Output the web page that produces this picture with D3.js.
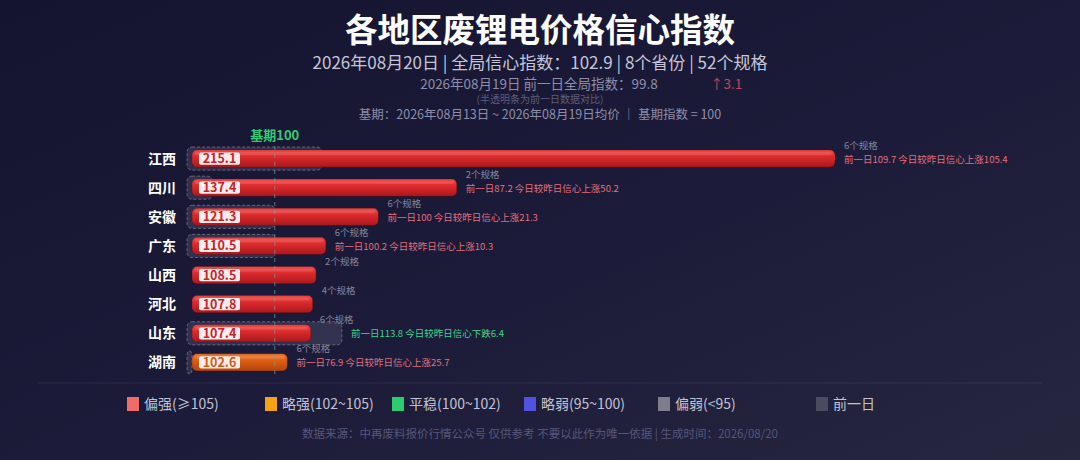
<!DOCTYPE html>
<html lang="zh">
<head>
  <meta charset="UTF-8">
  <title>各地区废锂电价格信心指数</title>
  <script src="https://d3js.org/d3.v7.min.js"></script>
  <style>
    body { margin: 0; background: #191934; }
    svg { display: block; font-family: "Noto Sans CJK SC", "Noto Sans", sans-serif; }
  </style>
</head>
<body>
  <svg id="chart" width="1080" height="460"></svg>

  <script>
    // data
    const provinces = ["江西", "四川", "安徽", "广东", "山西", "河北", "山东", "湖南"]
    const todayIndex = [215.1, 137.4, 121.3, 110.5, 108.5, 107.8, 107.4, 102.6]
    const prevIndex = [109.7, 87.2, 100, 100.2, null, null, 113.8, 76.9]
    const specCounts = [6, 2, 6, 6, 2, 4, 6, 6]

    const legendLabels = ["偏强(≥105)", "略强(102~105)", "平稳(100~102)", "略弱(95~100)", "偏弱(<95)", "前一日"]
    const legendColors = ["#f26b6b", "#f5a316", "#2ecc71", "#5252e0", "#7d7d8e", "#4a4a60"]

    const rows = provinces.map((p, i) => ({
      name: p, value: todayIndex[i], prev: prevIndex[i], specs: specCounts[i]
    }))

    const W = 1080, H = 460
    const svg = d3.select("#chart")
    const defs = svg.append("defs")

    const bg = defs.append("linearGradient").attr("id", "bg")
      .attr("x1", "0%").attr("y1", "0%").attr("x2", "100%").attr("y2", "100%")
    bg.append("stop").attr("offset", "0%").attr("stop-color", "#141430")
    bg.append("stop").attr("offset", "55%").attr("stop-color", "#1c1c3a")
    bg.append("stop").attr("offset", "100%").attr("stop-color", "#26263f")

    function barGrad(id, c0, c1, c2) {
      const g = defs.append("linearGradient").attr("id", id)
        .attr("x1", "0").attr("y1", "0").attr("x2", "0").attr("y2", "1")
      g.append("stop").attr("offset", "0%").attr("stop-color", c0)
      g.append("stop").attr("offset", "40%").attr("stop-color", c1)
      g.append("stop").attr("offset", "100%").attr("stop-color", c2)
    }
    barGrad("gRed", "#f04a48", "#dc2a2c", "#a8181e")
    barGrad("gOrange", "#f0762a", "#de5e16", "#b0440c")
    barGrad("gGreen", "#46dc86", "#2ecc71", "#1f9a55")
    barGrad("gBlue", "#6a6aee", "#5252e0", "#3a3ab0")
    barGrad("gGray", "#9a9aaa", "#7d7d8e", "#5d5d6e")

    function barFill(v) {
      if (v >= 105) return "url(#gRed)"
      if (v >= 102) return "url(#gOrange)"
      if (v >= 100) return "url(#gGreen)"
      if (v >= 95) return "url(#gBlue)"
      return "url(#gGray)"
    }
    function labelColor(v) {
      if (v >= 105) return "#c42428"
      if (v >= 102) return "#d45a14"
      if (v >= 100) return "#1f9a55"
      if (v >= 95) return "#3a3ab0"
      return "#5d5d6e"
    }

    svg.append("rect").attr("width", W).attr("height", H).attr("fill", "url(#bg)")

    // header
    const cx = W / 2
    svg.append("text").attr("x", cx).attr("y", 42).attr("text-anchor", "middle")
      .attr("fill", "#ffffff").attr("font-size", 32.5).attr("font-weight", 700)
      .text("各地区废锂电价格信心指数")
    svg.append("text").attr("x", cx).attr("y", 69).attr("text-anchor", "middle")
      .attr("fill", "#c6c6d8").attr("font-size", 17)
      .text("2026年08月20日 | 全局信心指数：102.9 | 8个省份 | 52个规格")
    svg.append("text").attr("x", 539).attr("y", 88.5).attr("text-anchor", "middle")
      .attr("fill", "#8e8ea8").attr("font-size", 13.5)
      .text("2026年08月19日 前一日全局指数：99.8")
    svg.append("text").attr("x", 710).attr("y", 88.5)
      .attr("fill", "#c04460").attr("font-size", 13.5)
      .text("↑3.1")
    svg.append("text").attr("x", cx).attr("y", 103).attr("text-anchor", "middle")
      .attr("fill", "#5e5e7a").attr("font-size", 10)
      .text("(半透明条为前一日数据对比)")
    svg.append("text").attr("x", cx).attr("y", 119).attr("text-anchor", "middle")
      .attr("fill", "#8e8ea8").attr("font-size", 12.5)
      .text("基期：2026年08月13日 ~ 2026年08月19日均价 ｜ 基期指数 = 100")

    // scales
    const x = d3.scaleLinear()
      .domain([83, d3.max(rows, d => d.value)])
      .range([192, 835])
    const y = d3.scaleBand()
      .domain(provinces)
      .range([144, 377])
      .paddingInner(0.41)
      .paddingOuter(0.205)
    const bh = y.bandwidth()
    const x0 = x.range()[0]

    const plot = svg.append("g")

    // previous-day ghost bars
    const ghosts = rows.filter(d => d.prev != null)
    plot.selectAll(".ghost").data(ghosts).join("rect")
      .attr("class", "ghost")
      .attr("x", x0 - 5)
      .attr("y", d => y(d.name) - 3)
      .attr("width", d => Math.max(0, x(d.prev) - x0) + 5)
      .attr("height", bh + 6)
      .attr("rx", 5)
      .attr("fill", "rgba(110,110,140,0.28)")
      .attr("stroke", "rgba(170,170,190,0.45)")
      .attr("stroke-dasharray", "3,2")

    // current bars
    plot.selectAll(".bar").data(rows).join("rect")
      .attr("class", "bar")
      .attr("x", x0)
      .attr("y", d => y(d.name))
      .attr("width", d => x(d.value) - x0)
      .attr("height", bh)
      .attr("rx", 5)
      .attr("fill", d => barFill(d.value))
      .attr("stroke", "rgba(60,0,10,0.35)")
      .attr("stroke-width", 0.8)

    // top sheen
    plot.selectAll(".sheen").data(rows).join("rect")
      .attr("class", "sheen")
      .attr("x", x0 + 3)
      .attr("y", d => y(d.name) + 2)
      .attr("width", d => x(d.value) - x0 - 6)
      .attr("height", 3)
      .attr("rx", 1.5)
      .attr("fill", "rgba(255,255,255,0.12)")

    // value tags
    plot.selectAll(".tag").data(rows).join("rect")
      .attr("class", "tag")
      .attr("x", x0 + 7)
      .attr("y", d => y(d.name) + 2.5)
      .attr("width", 41)
      .attr("height", bh - 5)
      .attr("rx", 2)
      .attr("fill", "#fdeceb")
    plot.selectAll(".tagText").data(rows).join("text")
      .attr("class", "tagText")
      .attr("x", x0 + 27.5)
      .attr("y", d => y(d.name) + bh / 2 + 4.5)
      .attr("text-anchor", "middle")
      .attr("font-size", 12.5)
      .attr("font-weight", 700)
      .attr("fill", d => labelColor(d.value))
      .text(d => d.value.toFixed(1))

    // base line at 100
    plot.append("line")
      .attr("x1", x(100)).attr("x2", x(100))
      .attr("y1", 146).attr("y2", 378)
      .attr("stroke", "rgba(110,170,170,0.55)")
      .attr("stroke-width", 1.2)
      .attr("stroke-dasharray", "4,4")
    plot.append("text")
      .attr("x", x(100)).attr("y", 140)
      .attr("text-anchor", "middle")
      .attr("fill", "#2ecc71").attr("font-size", 13).attr("font-weight", 700)
      .text("基期100")

    // province names
    plot.selectAll(".name").data(rows).join("text")
      .attr("class", "name")
      .attr("x", 176)
      .attr("y", d => y(d.name) + bh / 2 + 5)
      .attr("text-anchor", "end")
      .attr("fill", "#ffffff").attr("font-size", 14).attr("font-weight", 700)
      .text(d => d.name)

    // spec counts
    plot.selectAll(".spec").data(rows).join("text")
      .attr("class", "spec")
      .attr("x", d => x(d.value) + 9)
      .attr("y", d => y(d.name) + bh / 2 - 10)
      .attr("fill", "#85859c").attr("font-size", 9.5)
      .text(d => d.specs + "个规格")

    // previous-day notes
    plot.selectAll(".note").data(ghosts).join("text")
      .attr("class", "note")
      .attr("x", d => Math.max(x(d.value), x(d.prev)) + 9)
      .attr("y", d => y(d.name) + bh / 2 + 4)
      .attr("font-size", 9.5)
      .attr("fill", d => d.value >= d.prev ? "#e0707e" : "#3fd68a")
      .text(d => {
        const diff = Math.abs(d.value - d.prev).toFixed(1)
        return "前一日" + d.prev + " 今日较昨日信心" + (d.value >= d.prev ? "上涨" : "下跌") + diff
      })

    // separator
    svg.append("line")
      .attr("x1", 38).attr("x2", 1042).attr("y1", 383).attr("y2", 383)
      .attr("stroke", "rgba(255,255,255,0.08)")

    // legend
    const legendX = [127, 265, 392, 524, 658, 816]
    const legend = svg.append("g")
    const items = legend.selectAll("g").data(legendLabels).join("g")
      .attr("transform", (d, i) => "translate(" + legendX[i] + ",404)")
    items.append("rect")
      .attr("x", 0).attr("y", -7).attr("width", 12).attr("height", 14)
      .attr("fill", (d, i) => legendColors[i])
    items.append("text")
      .attr("x", 17).attr("y", 5)
      .attr("fill", "#c2c2d4").attr("font-size", 14)
      .text(d => d)

    // footer
    svg.append("text").attr("x", 540).attr("y", 438).attr("text-anchor", "middle")
      .attr("fill", "#56567a").attr("font-size", 11.5)
      .text("数据来源：中再废料报价行情公众号 仅供参考 不要以此作为唯一依据 | 生成时间：2026/08/20")
  </script>
</body>
</html>
